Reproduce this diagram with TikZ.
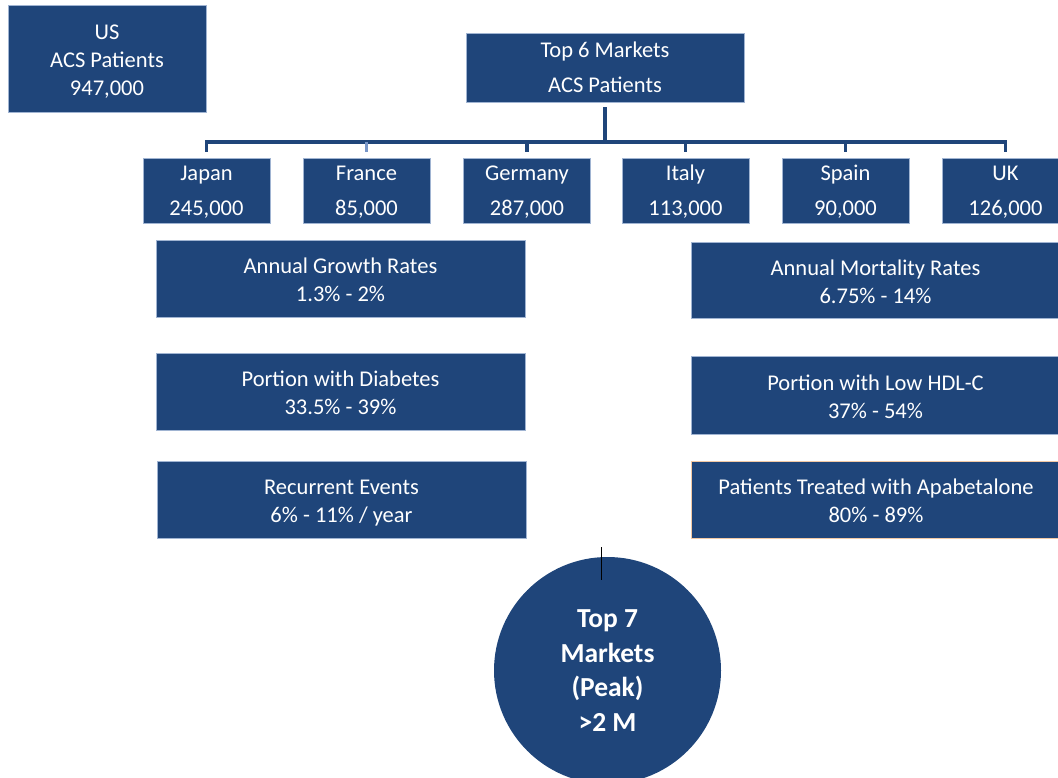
\documentclass[tikz,border=0pt]{standalone}
\usepackage{fontspec}
\setmainfont{Carlito}
\definecolor{boxblue}{RGB}{31,69,122}
\definecolor{boxedge}{RGB}{160,180,210}
\definecolor{peachedge}{RGB}{242,200,164}
\definecolor{paleblue}{RGB}{120,150,200}
% invisible rules that give every text line the same height and depth
\newcommand\bs{\rule[-3pt]{0pt}{24pt}}
\newcommand\ws{\rule[-5pt]{0pt}{25pt}}
\tikzset{
  cell/.style={fill=boxblue, draw=boxedge, line width=0.7pt, text=white,
    align=center, inner sep=0pt},
  bodyfont/.style={font=\fontsize{22.5}{28}\selectfont},
  widefont/.style={font=\fontsize{22.5}{35}\selectfont},
  country/.style={cell, widefont, minimum width=127pt, minimum height=65pt},
  factbox/.style={cell, bodyfont, minimum width=369pt, minimum height=77pt},
  tree/.style={draw=boxblue, line width=3.5pt, line join=miter},
}
\begin{document}
\begin{tikzpicture}[x=1pt, y=-1pt]
\useasboundingbox (0,0) rectangle (1058,778);

% headline boxes
\node[cell, bodyfont, minimum width=198pt, minimum height=107pt] (us) at (107,58.5)
  {\bs US\\\bs ACS Patients\\\bs 947,000};
\node[cell, widefont, minimum width=278pt, minimum height=69pt] (top6) at (605,67.5)
  {\ws Top 6 Markets\\\ws ACS Patients};

% country boxes
\node[country] (japan)   at (206.5,190.5) {\ws Japan\\\ws 245,000};
\node[country] (france)  at (366.5,190.5) {\ws France\\\ws 85,000};
\node[country] (germany) at (527,190.5)   {\ws Germany\\\ws 287,000};
\node[country] (italy)   at (685.5,190.5) {\ws Italy\\\ws 113,000};
\node[country] (spain)   at (845.5,190.5) {\ws Spain\\\ws 90,000};
\node[country] (uk)      at (1005.5,190.5){\ws UK\\\ws 126,000};

% tree connecting the markets
\coordinate (bus) at (0,142);
\draw[tree] ([yshift=-5pt]top6.south) -- (top6.south |- bus);
\draw[tree] ([yshift=6pt]japan.north) -- (japan.north |- bus)
  -- (uk.north |- bus) -- ([yshift=6pt]uk.north);
\draw[tree, draw=paleblue] (france.north |- bus) -- ([yshift=6pt]france.north);
\draw[tree] (germany.north |- bus) -- ([yshift=6pt]germany.north);
\draw[tree] (italy.north |- bus) -- ([yshift=6pt]italy.north);
\draw[tree] (spain.north |- bus) -- ([yshift=6pt]spain.north);

% left column of facts
\node[factbox] (growth)    at (340.5,278.5) {\bs Annual Growth Rates\\\bs 1.3\% - 2\%};
\node[factbox] (diabetes)  at (340.5,391.5) {\bs Portion with Diabetes\\\bs 33.5\% - 39\%};
\node[factbox] (recurrent) at (341.5,499.5) {\bs Recurrent Events\\\bs 6\% - 11\% / year};

% right column of facts
\node[factbox, minimum height=76pt] (mortality) at (875.5,280) {\bs Annual Mortality Rates\\\bs 6.75\% - 14\%};
\node[factbox, minimum height=78pt] (hdl)       at (875.5,395) {\bs Portion with Low HDL-C\\\bs 37\% - 54\%};
\node[factbox, draw=peachedge] (treated)        at (876,499.5) {\bs Patients Treated with Apabetalone\\\bs 80\% - 89\%};

% peak total
\node[circle, fill=boxblue, text=white, align=center, inner sep=0pt,
  minimum size=227pt, font=\bfseries\fontsize{27.5}{34.5}\selectfont]
  (peak) at (607.5,670.5) {Top 7\\Markets\\(Peak)\\>2 M};

\coordinate (tickA) at (601.5,547);
\coordinate (tickB) at (601.5,580);
\draw[black, line width=1.2pt] (tickA) -- (tickB);
\end{tikzpicture}
\end{document}
